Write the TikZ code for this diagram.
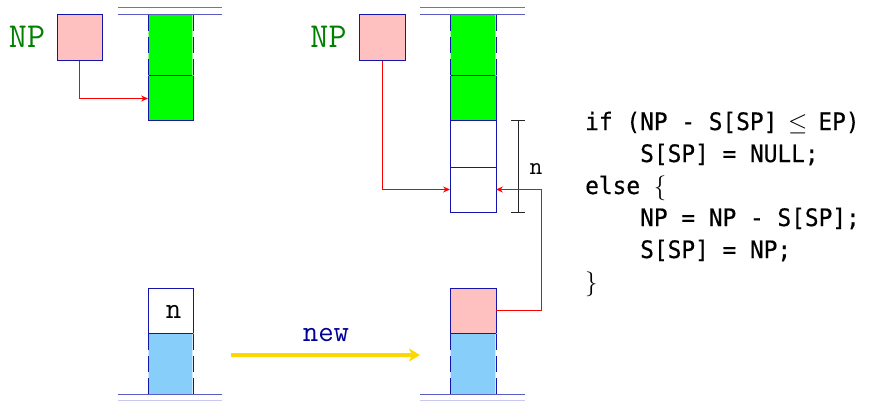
\documentclass[tikz,border=0pt]{standalone}
\usepackage{fontspec}
\newfontfamily\codefont[FakeStretch=0.95,FakeBold=0.5]{DejaVu Sans Mono}
\usetikzlibrary{arrows.meta}
\definecolor{cellblue}{RGB}{20,20,170}
\definecolor{linetop}{RGB}{110,110,205}
\definecolor{linelow}{RGB}{200,200,240}
\definecolor{greenfill}{RGB}{0,255,0}
\definecolor{pinkfill}{RGB}{255,192,192}
\definecolor{bluefill}{RGB}{135,206,250}
\definecolor{npgreen}{RGB}{0,128,0}
\definecolor{newblue}{RGB}{0,0,150}
\definecolor{gold}{RGB}{255,215,0}
\newcommand{\bigmath}[1]{{\fontsize{29}{29}\selectfont$#1$}}
\tikzset{
  cell/.style={draw=cellblue, line width=1pt, inner sep=0pt, outer sep=0pt, minimum width=45pt, minimum height=45pt},
  dcell/.style={inner sep=0pt, outer sep=0pt, minimum width=45pt, minimum height=61pt},
  sidehalo/.style={white, opacity=0.6, line width=1.2pt},
  dashside/.style={cellblue, line width=1pt, dash pattern=on 16pt off 6pt},
  solidedge/.style={cellblue, line width=1pt},
  baseline1/.style={linetop, line width=1pt},
  baseline2/.style={cellblue!70!white, line width=1pt},
  redarrow/.style={red, line width=0.8pt, -{Stealth[length=7pt,width=6pt,inset=2.5pt]}},
  redline/.style={red, line width=0.8pt},
  yarrow/.style={gold, line width=3.5pt, -{Stealth[length=11pt,width=13pt,inset=3pt]}},
  nplabel/.style={font=\fontsize{35}{35}\selectfont\ttfamily, text=npgreen, inner sep=0pt, anchor=base},
  nlabel/.style={font=\fontsize{30}{30}\selectfont\ttfamily, inner sep=0pt, anchor=base},
  codeline/.style={font=\fontsize{24}{32}\selectfont\codefont, inner sep=0pt, anchor=base west},
}
\begin{document}
\begin{tikzpicture}[x=1pt,y=-1pt]
\useasboundingbox (0,0) rectangle (872,401);
% ---------- top left ----------
\draw[baseline1] (118,8) -- (222,8);
\draw[baseline2] (118,15) -- (222,15);
\node[dcell, fill=greenfill] (g1a) at (170.5,45.5) {};
\node[cell, fill=greenfill] (g1b) at (170.5,98.5) {};
\draw[sidehalo] (g1a.north west) -- (g1a.south west) (g1a.north east) -- (g1a.south east);
\draw[dashside] (g1a.north west) -- (g1a.south west);
\draw[dashside] (g1a.north east) -- (g1a.south east);
\node[cell, fill=pinkfill, minimum height=46pt] (np1) at (79.5,38) {};
\node[nplabel] (npl1) at (27,47.7) {NP};
\draw[redarrow] (np1.south) |- (g1b.west);
% ---------- top right ----------
\draw[baseline1] (420,8) -- (525,8);
\draw[baseline2] (420,15) -- (525,15);
\node[dcell, fill=greenfill, minimum width=46pt] (g2a) at (473,45.5) {};
\node[cell, fill=greenfill, minimum width=46pt] (g2b) at (473,98.5) {};
\node[cell, minimum width=46pt, minimum height=46pt] (w2a) at (473,144) {};
\node[cell, minimum width=46pt] (w2b) at (473,189.5) {};
\draw[sidehalo] (g2a.north west) -- (g2a.south west) (g2a.north east) -- (g2a.south east);
\draw[dashside] (g2a.north west) -- (g2a.south west);
\draw[dashside] (g2a.north east) -- (g2a.south east);
\node[cell, fill=pinkfill, minimum width=46pt, minimum height=46pt] (np2) at (382,38) {};
\node[nplabel] (npl2) at (328.5,47.7) {NP};
\draw[redarrow] (np2.south) |- (w2b.west);
% bracket
\coordinate (brtop) at (518,121);
\coordinate (brbot) at (518,212);
\draw[black!85, line width=1pt] (brtop) -- (brbot);
\draw[black!85, line width=1pt] ([xshift=-7pt]brtop) -- ([xshift=7pt]brtop);
\draw[black!85, line width=1pt] ([xshift=-7pt]brbot) -- ([xshift=7pt]brbot);
\node[nlabel, font=\fontsize{25}{25}\selectfont\ttfamily] (nbr) at (536,174) {n};
% ---------- bottom left ----------
\node[cell, fill=white] (n1) at (170.5,310.5) {};
\node[dcell, fill=bluefill] (b1) at (170.5,363.5) {};
\draw[sidehalo] (b1.north west) -- (b1.south west) (b1.north east) -- (b1.south east);
\draw[dashside] (b1.south west) -- (b1.north west);
\draw[dashside] (b1.south east) -- (b1.north east);
\draw[solidedge] (b1.north west) -- (b1.north east);
\draw[baseline2] (118,394) -- (222,394);
\draw[linelow, line width=1pt] (118,400) -- (222,400);
\node[nlabel] (nn) at (173.5,318) {n};
% ---------- bottom right ----------
\node[cell, fill=pinkfill, minimum width=46pt] (p2) at (473,310.5) {};
\node[dcell, fill=bluefill, minimum width=46pt] (b2) at (473,363.5) {};
\draw[sidehalo] (b2.north west) -- (b2.south west) (b2.north east) -- (b2.south east);
\draw[dashside] (b2.south west) -- (b2.north west);
\draw[dashside] (b2.south east) -- (b2.north east);
\draw[solidedge] (b2.north west) -- (b2.north east);
\draw[baseline2] (420,394) -- (525,394);
\draw[linelow, line width=1pt] (420,400) -- (525,400);
\draw[redline] (p2.east) -- ++(45,0) coordinate (turn);
\draw[redarrow] (turn) |- (w2b.east);
% ---------- new arrow ----------
\coordinate (ystart) at (231,355);
\coordinate (yend) at (420,355);
\draw[yarrow] (ystart) -- (yend);
\node[nlabel, text=newblue] (newl) at (326,341) {new};
% ---------- code ----------
\node[codeline] (c1) at (585,130) {if (NP - S[SP]\makebox[41pt]{\bigmath{\leq}}EP)};
\node[codeline] (c2) at (640,162) {S[SP] = NULL;};
\node[codeline] (c3) at (585,194) {else \bigmath{\{}};
\node[codeline] (c4) at (640,226) {NP = NP - S[SP];};
\node[codeline] (c5) at (640,258) {S[SP] = NP;};
\node[codeline] (c6) at (585,290) {\bigmath{\}}};
\end{tikzpicture}
\end{document}
